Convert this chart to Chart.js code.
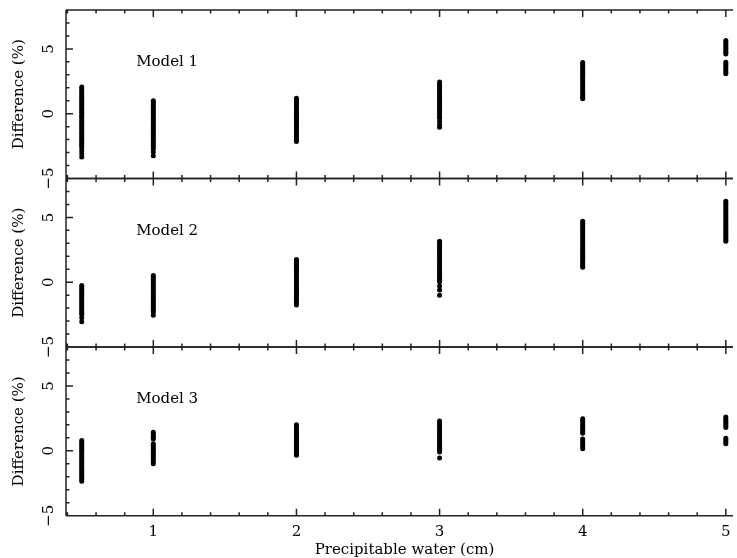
<!DOCTYPE html>
<html>
<head>
<meta charset="utf-8">
<script src="https://cdn.jsdelivr.net/npm/chart.js@4.4.1/dist/chart.umd.min.js"></script>
<style>
  body { margin: 0; background: #fff; }
  #wrap { position: relative; width: 737px; height: 558px; }
  #wrap canvas { position: absolute; left: 0; top: 0; }
</style>
</head>
<body>
<div id="wrap">
  <canvas id="panel1" width="737" height="558"></canvas>
  <canvas id="panel2" width="737" height="558"></canvas>
  <canvas id="panel3" width="737" height="558"></canvas>
</div>
<script>
// precipitable water (cm) of each strip
const waterCm = [0.5, 1, 2, 3, 4, 5];

// difference (%) read from each strip, one list per water value
const model1 = [
  [2.05, 1.92, 1.76, 1.62, 1.47, 1.3, 1.17, 1.01, 0.86, 0.72, 0.55, 0.41, 0.26, 0.12, -0.04, -0.19, -0.33, -0.5, -0.64, -0.79, -0.95, -1.1, -1.24, -1.41, -1.55, -1.7, -1.86, -2.0, -2.16, -2.3, -2.44, -2.6, -2.85, -3.1, -3.35],
  [1.0, 0.86, 0.71, 0.56, 0.42, 0.27, 0.12, -0.03, -0.18, -0.33, -0.47, -0.62, -0.78, -0.92, -1.07, -1.22, -1.37, -1.52, -1.66, -1.81, -1.96, -2.11, -2.26, -2.41, -2.56, -2.7, -2.95, -3.25],
  [1.2, 1.06, 0.91, 0.76, 0.61, 0.46, 0.31, 0.16, 0.02, -0.13, -0.28, -0.43, -0.58, -0.73, -0.88, -1.03, -1.18, -1.33, -1.48, -1.63, -1.78, -1.93, -2.05, -2.15],
  [2.45, 2.3, 2.15, 2.0, 1.85, 1.7, 1.55, 1.4, 1.25, 1.1, 0.95, 0.8, 0.65, 0.5, 0.35, 0.2, 0.05, -0.1, -0.25, -0.35, -0.6, -0.85, -1.05],
  [3.95, 3.8, 3.65, 3.5, 3.35, 3.2, 3.05, 2.9, 2.75, 2.6, 2.45, 2.3, 2.15, 2.0, 1.85, 1.7, 1.55, 1.4, 1.27, 1.15],
  [5.65, 5.5, 5.35, 5.2, 5.05, 4.9, 4.75, 4.6, 3.97, 3.82, 3.67, 3.52, 3.37, 3.22, 3.08]
];
const model2 = [
  [-0.25, -0.4, -0.55, -0.7, -0.85, -1.0, -1.15, -1.3, -1.45, -1.6, -1.75, -1.9, -2.05, -2.2, -2.35, -2.5, -2.75, -3.05],
  [0.52, 0.38, 0.23, 0.08, -0.07, -0.22, -0.37, -0.52, -0.67, -0.82, -0.97, -1.12, -1.27, -1.42, -1.57, -1.72, -1.87, -2.02, -2.17, -2.3, -2.55],
  [1.75, 1.6, 1.45, 1.3, 1.15, 1.0, 0.85, 0.7, 0.55, 0.4, 0.25, 0.1, -0.05, -0.2, -0.35, -0.5, -0.65, -0.8, -0.95, -1.1, -1.25, -1.4, -1.55, -1.75],
  [3.15, 3.0, 2.85, 2.7, 2.55, 2.4, 2.25, 2.1, 1.95, 1.8, 1.65, 1.5, 1.35, 1.2, 1.05, 0.9, 0.75, 0.6, 0.45, 0.3, 0.15, 0.03, -0.3, -0.6, -1.0],
  [4.7, 4.55, 4.4, 4.25, 4.1, 3.95, 3.8, 3.65, 3.5, 3.35, 3.2, 3.05, 2.9, 2.75, 2.6, 2.45, 2.3, 2.15, 2.0, 1.85, 1.7, 1.55, 1.4, 1.27, 1.15],
  [6.25, 6.1, 5.95, 5.8, 5.65, 5.5, 5.35, 5.2, 5.05, 4.9, 4.75, 4.6, 4.45, 4.3, 4.15, 4.0, 3.85, 3.7, 3.55, 3.4, 3.27, 3.15]
];
const model3 = [
  [0.8, 0.65, 0.5, 0.35, 0.2, 0.05, -0.1, -0.25, -0.4, -0.55, -0.7, -0.85, -1.0, -1.15, -1.3, -1.45, -1.6, -1.75, -1.9, -2.05, -2.2, -2.35],
  [1.43, 1.3, 1.17, 1.04, 0.92, 0.55, 0.4, 0.25, 0.1, -0.05, -0.2, -0.35, -0.5, -0.65, -0.8, -1.0],
  [2.0, 1.85, 1.7, 1.55, 1.4, 1.25, 1.1, 0.95, 0.8, 0.65, 0.5, 0.35, 0.2, 0.05, -0.1, -0.22, -0.35],
  [2.3, 2.15, 2.0, 1.85, 1.7, 1.55, 1.4, 1.25, 1.1, 0.95, 0.8, 0.65, 0.5, 0.35, 0.2, 0.05, -0.1, -0.55],
  [2.48, 2.33, 2.18, 2.03, 1.88, 1.73, 1.58, 1.45, 1.35, 0.92, 0.78, 0.63, 0.48, 0.33, 0.15],
  [2.6, 2.46, 2.33, 2.2, 2.06, 1.93, 1.8, 0.97, 0.83, 0.69, 0.55]
];

const modelNames = ["Model 1", "Model 2", "Model 3"];
const xTickLabels = [1, 2, 3, 4, 5];
const yTickLabels = [-5, 0, 5];

const FONT = '"DejaVu Serif", "Liberation Serif", serif';

function toPoints(model) {
  return model.flatMap((vals, i) => vals.map(v => ({ x: waterCm[i], y: v })));
}

// frame, inward ticks and texts of one panel
const panelFrame = {
  id: "panelFrame",
  afterDraw(chart, args, opts) {
    const { ctx, chartArea: a, scales: { x, y } } = chart;
    ctx.save();
    ctx.strokeStyle = "#222";
    ctx.lineWidth = 1.5;
    ctx.beginPath();
    ctx.moveTo(a.left, a.top); ctx.lineTo(a.right, a.top);
    ctx.moveTo(a.left, a.bottom); ctx.lineTo(a.right, a.bottom);
    ctx.moveTo(a.left, a.top); ctx.lineTo(a.left, a.bottom);
    for (let i = 2; i <= 25; i++) {
      const px = x.getPixelForValue(i / 5);
      const len = i % 5 === 0 ? 7 : 3.5;
      ctx.moveTo(px, a.top); ctx.lineTo(px, a.top + len);
      ctx.moveTo(px, a.bottom); ctx.lineTo(px, a.bottom - len);
    }
    for (let v = -5; v <= 8; v++) {
      const py = y.getPixelForValue(v);
      const len = v % 5 === 0 ? 7 : 3.5;
      ctx.moveTo(a.left, py); ctx.lineTo(a.left + len, py);
    }
    ctx.stroke();

    ctx.fillStyle = "#000";
    ctx.font = "15px " + FONT;
    ctx.textAlign = "center";
    ctx.textBaseline = "middle";
    // rotated y tick labels
    yTickLabels.forEach(v => {
      ctx.save();
      ctx.translate(49, y.getPixelForValue(v));
      ctx.rotate(-Math.PI / 2);
      ctx.fillText(String(v).replace("-", "\u2212"), 0, 0);
      ctx.restore();
    });
    // y title
    ctx.save();
    ctx.translate(19, (a.top + a.bottom) / 2);
    ctx.rotate(-Math.PI / 2);
    ctx.fillText("Difference (%)", 0, 0);
    ctx.restore();
    // panel label
    ctx.textAlign = "left";
    ctx.fillText(opts.label, x.getPixelForValue(0.88), y.getPixelForValue(3.95));
    // x axis on last panel
    if (opts.showX) {
      ctx.textAlign = "center";
      xTickLabels.forEach(v => ctx.fillText(String(v), x.getPixelForValue(v), a.bottom + 16));
      ctx.fillText("Precipitable water (cm)", (a.left + a.right) / 2 + 5, a.bottom + 34);
    }
    ctx.restore();
  }
};

// chart area of each panel inside the 737x558 page
const panelTops = [10, 178.5, 347];
const panelBottoms = [178.5, 347, 515.7];
const models = [model1, model2, model3];

models.forEach((model, k) => {
  const ctx = document.getElementById("panel" + (k + 1)).getContext("2d");
  new Chart(ctx, {
    type: "scatter",
    data: {
      datasets: [{
        label: modelNames[k],
        data: toPoints(model),
        pointRadius: 2.5,
        pointBorderWidth: 0,
        borderColor: "#000",
        backgroundColor: "#000"
      }]
    },
    options: {
      responsive: false,
      animation: false,
      events: [],
      layout: {
        padding: { left: 66, right: 0, top: panelTops[k], bottom: 558 - panelBottoms[k] }
      },
      scales: {
        x: { type: "linear", min: 0.39, max: 5.05, display: false },
        y: { type: "linear", min: -5, max: 8, display: false }
      },
      plugins: {
        legend: { display: false },
        tooltip: { enabled: false },
        panelFrame: { label: modelNames[k], showX: k === 2 }
      }
    },
    plugins: [panelFrame]
  });
});
</script>
</body>
</html>
